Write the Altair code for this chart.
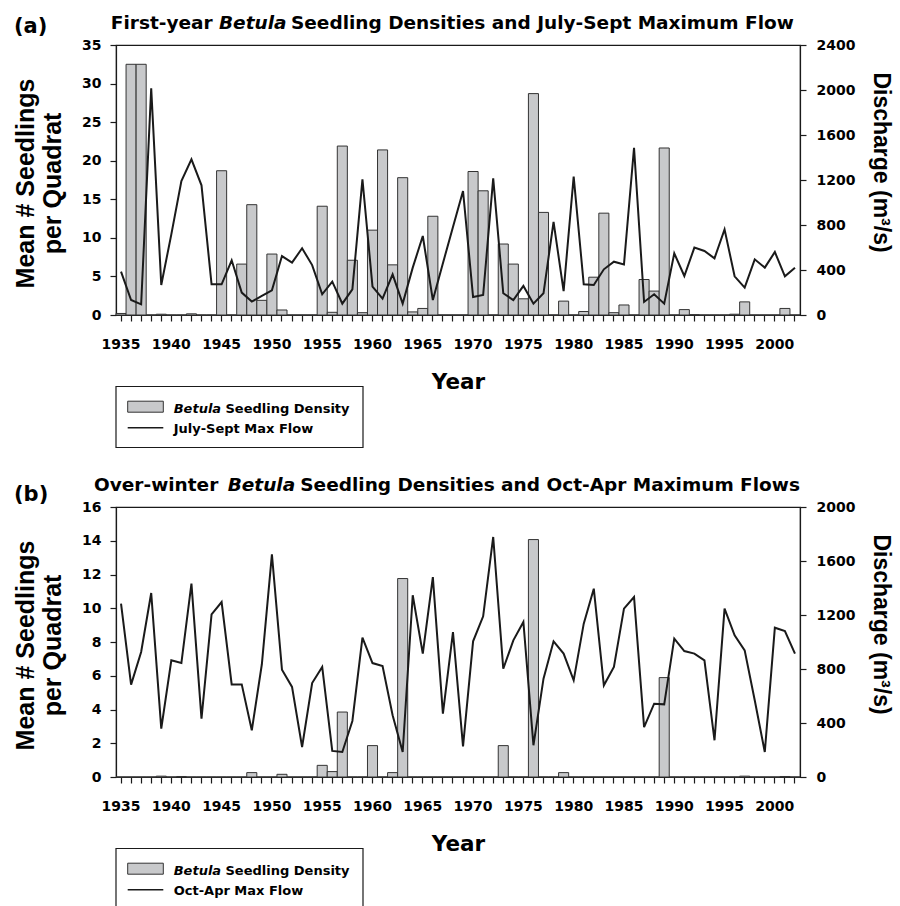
import altair as alt
import pandas as pd

years = list(range(1935, 2003))

density_a = [0.2, 32.5, 32.5, 0, 0.1, 0, 0, 0.15, 0, 0,
             18.7, 0, 6.6, 14.3, 1.9, 7.9, 0.65, 0, 0, 0,
             14.1, 0.35, 21.9, 7.1, 0.3, 11.0, 21.4, 6.5, 17.8, 0.4,
             0.85, 12.8, 0, 0, 0, 18.6, 16.1, 0, 9.2, 6.6,
             2.1, 28.7, 13.3, 0, 1.8, 0, 0.45, 4.9, 13.2, 0.3,
             1.3, 0, 4.6, 3.1, 21.65, 0, 0.7, 0.05, 0, 0,
             0, 0.1, 1.7, 0, 0, 0, 0.85, 0]
flow_a = [385, 133, 95, 2015, 267, 717, 1191, 1384, 1153, 273,
          273, 486, 199, 119, 169, 219, 524, 465, 593, 444,
          184, 296, 101, 228, 1206, 252, 145, 361, 101, 421,
          702, 133, 460, 782, 1102, 160, 178, 1215, 193, 133,
          258, 101, 193, 827, 213, 1230, 273, 267, 406, 474,
          450, 1487, 116, 184, 101, 548, 347, 599, 569, 504,
          761, 344, 243, 495, 421, 560, 344, 421]

density_b = [0, 0, 0, 0, 0.05, 0, 0.03, 0, 0, 0,
             0, 0, 0, 0.26, 0, 0, 0.16, 0, 0, 0,
             0.69, 0.32, 3.85, 0, 0, 1.86, 0, 0.26, 11.76, 0,
             0, 0, 0, 0, 0, 0, 0, 0, 1.86, 0,
             0, 14.07, 0, 0, 0.26, 0, 0, 0, 0, 0,
             0, 0, 0, 0, 5.89, 0, 0, 0, 0, 0,
             0, 0, 0.05, 0, 0, 0, 0.03, 0]
flow_b = [1284, 684, 926, 1363, 358, 864, 844, 1432, 432, 1205,
          1296, 686, 686, 346, 835, 1649, 795, 667, 222, 696,
          815, 193, 185, 415, 1032, 844, 822, 457, 185, 1346,
          914, 1481, 469, 1074, 227, 1005, 1190, 1778, 802, 1012,
          1148, 235, 728, 1005, 914, 716, 1136, 1395, 679, 815,
          1247, 1333, 370, 543, 538, 1025, 933, 914, 864, 272,
          1247, 1049, 938, 568, 185, 1106, 1081, 914]

H_FONT = "DejaVu Sans"
V_FONT = "Liberation Sans"
INK = "#1a1a1a"
BAR_FILL = "#c8c9cb"
W, H = 684, 270
ONE = alt.Data(values=[{}])


def txt(text, x, y, size, font=H_FONT, align="left", style="normal"):
    return alt.Chart(ONE).mark_text(
        text=text, align=align, baseline="alphabetic", font=font,
        fontSize=size, fontWeight="bold", fontStyle=style, color="black"
    ).encode(x=alt.value(x), y=alt.value(y))


def panel(density, flow, y_max, y_step, q_max, pre, post, pre_end, bet_x,
          post_x, tag, tag_y, flow_label):
    df = pd.DataFrame({"year": years, "density": density, "flow": flow})
    x = alt.X(
        "year:O",
        scale=alt.Scale(paddingInner=0, paddingOuter=0),
        axis=alt.Axis(
            title="Year", labelExpr="datum.value % 5 === 0 ? '' + datum.value : ''",
            labelAngle=0, labelOverlap=False, labelFont=H_FONT, labelFontSize=14,
            labelFontWeight="bold", labelColor="black", labelPadding=16,
            tickSize=6, tickColor=INK, tickWidth=1.2, domainColor=INK,
            domainWidth=1.2, titleFont=H_FONT, titleFontSize=21.5,
            titleFontWeight="bold", titleColor="black", titleX=342, titleY=56,
            titleBaseline="top", titleAlign="center"),
    )
    bars = alt.Chart(df).mark_bar(
        fill=BAR_FILL, stroke="#333333", strokeWidth=1
    ).encode(
        x=x,
        y=alt.Y(
            "density:Q",
            scale=alt.Scale(domain=[0, y_max], nice=False, zero=True),
            axis=alt.Axis(
                orient="left", values=list(range(0, y_max + 1, y_step)),
                title=["Mean # Seedlings", "per Quadrat"], labelFont=H_FONT,
                labelFontSize=14, labelFontWeight="bold", labelColor="black",
                labelPadding=9, tickSize=6, tickColor=INK, tickWidth=1.2,
                domainColor=INK, domainWidth=1.2, titleFont=V_FONT,
                titleFontSize=25, titleFontWeight="bold", titleColor="black",
                titleAngle=270, titleBaseline="bottom", titleAlign="center",
                titleX=-78, titleY=138, titleLineHeight=27),
        ),
    )
    line = alt.Chart(df).mark_line(color=INK, strokeWidth=2).encode(
        x=x,
        y=alt.Y(
            "flow:Q",
            scale=alt.Scale(domain=[0, q_max], nice=False, zero=True),
            axis=alt.Axis(
                orient="right", values=list(range(0, q_max + 1, 400)),
                format="d",
                title="Discharge (m³/s)", labelFont=H_FONT, labelFontSize=14,
                labelFontWeight="bold", labelColor="black", labelPadding=10,
                tickSize=6, tickColor=INK, tickWidth=1.2, domainColor=INK,
                domainWidth=1.2, titleFont=V_FONT, titleFontSize=23,
                titleFontWeight="bold", titleColor="black", titleAngle=90,
                titleBaseline="bottom", titleAlign="center", titleX=68,
                titleY=117),
        ),
    )
    deco = [
        txt(pre, pre_end, -16, 18.5, align="right"),
        txt("Betula", bet_x, -16, 18.5, style="italic"),
        txt(post, post_x, -16, 18.5),
        txt(tag, -102, tag_y, 21),
        alt.Chart(ONE).mark_rect(fill="white", stroke=INK, strokeWidth=1.2).encode(
            x=alt.value(0), x2=alt.value(247), y=alt.value(341.5), y2=alt.value(402.5)),
        alt.Chart(ONE).mark_rect(fill=BAR_FILL, stroke="#333333", strokeWidth=1).encode(
            x=alt.value(11.7), x2=alt.value(47.3), y=alt.value(356.2), y2=alt.value(367.2)),
        alt.Chart(ONE).mark_rule(color=INK, strokeWidth=1.5).encode(
            x=alt.value(11.7), x2=alt.value(47.3), y=alt.value(382.8)),
        txt("Betula", 57.7, 367.8, 13, style="italic"),
        txt("Seedling Density", 109.5, 367.8, 13),
        txt(flow_label, 57.7, 388.2, 13),
    ]
    return alt.layer(bars, line, *deco).resolve_scale(y="independent").properties(
        width=W, height=H)


panel_a = panel(density_a, flow_a, 35, 5, 2400, "First-year",
                "Seedling Densities and July-Sept Maximum Flow",
                96.7, 103, 175, "(a)", -12, "July-Sept Max Flow")
panel_b = panel(density_b, flow_b, 16, 2, 2000, "Over-winter",
                "Seedling Densities and Oct-Apr Maximum Flows",
                102.3, 111.7, 184.3, "(b)", -6.5, "Oct-Apr Max Flow")

chart = alt.vconcat(panel_a, panel_b, spacing=26).properties(
    padding={"left": 12, "top": 13, "right": 8, "bottom": 0},
    background="white",
).configure_view(stroke=INK, strokeWidth=1.2).configure_axis(grid=False)

chart.save("out.html", embed_options={"renderer": "svg", "actions": False})
